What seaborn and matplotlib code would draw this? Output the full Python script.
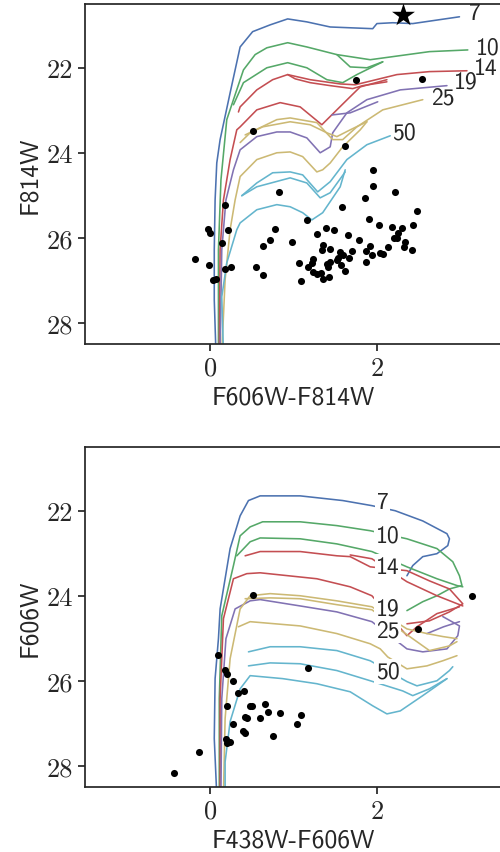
import numpy as np
import matplotlib
matplotlib.use("Agg")
import matplotlib.pyplot as plt
import seaborn as sns

# isochrone ages (Myr) and colours
ages = ["7", "10", "14", "19", "25", "50"]
pal = sns.color_palette("deep")
age_colors = [pal[0], pal[2], pal[3], pal[4], pal[8], pal[9]]

# ---- top panel: F606W-F814W vs F814W, each branch = (colour, mag) ----
top_7 = [
    ([0.07, 0.05, 0.05, 0.06, 0.08, 0.12, 0.24, 0.36, 0.51, 0.72, 0.93, 1.16, 1.44, 1.95, 2.00, 2.19, 2.43, 2.99],
     [28.7, 27.46, 26.28, 25.11, 24.24, 23.69, 22.59, 21.51, 21.15, 20.99, 20.85, 20.92, 21.04, 21.08, 20.96, 20.94, 20.96, 20.80]),
]
top_10 = [
    ([0.10, 0.10, 0.13, 0.20, 0.28, 0.40, 0.54, 0.68, 0.93, 1.16, 1.52, 1.92, 2.63, 3.09],
     [28.7, 26.28, 24.64, 23.22, 22.75, 22.05, 21.69, 21.53, 21.41, 21.51, 21.69, 21.81, 21.62, 21.58]),
    ([1.52, 1.68, 1.88, 2.07], [21.69, 21.98, 22.00, 21.86]),
    ([0.28, 0.40, 0.68, 0.93, 1.16, 1.40, 1.59, 1.76, 2.07],
     [22.87, 22.35, 22.00, 21.88, 22.00, 22.28, 22.35, 22.16, 21.86]),
]
top_14 = [
    ([0.11, 0.12, 0.16, 0.24, 0.32, 0.36, 0.56, 0.84, 1.08, 1.34, 1.52, 1.68, 1.80, 2.12],
     [28.7, 26.28, 25.11, 24.16, 23.46, 23.39, 22.99, 22.82, 22.92, 23.34, 22.99, 22.68, 22.45, 22.28]),
    ([0.34, 0.36, 0.56, 0.75, 0.93, 1.20, 1.56, 1.74, 2.24, 2.63, 3.08],
     [23.04, 22.92, 22.52, 22.28, 22.16, 22.28, 22.38, 22.40, 22.16, 22.09, 22.07]),
    ([0.93, 1.02, 1.20, 1.44, 1.71, 1.83, 2.12],
     [22.16, 22.26, 22.35, 22.42, 22.49, 22.42, 22.33]),
]
top_19 = [
    ([0.12, 0.14, 0.19, 0.28, 0.36, 0.56, 0.80, 0.96, 1.16, 1.32, 1.44, 1.47, 1.64, 1.88, 2.28, 2.84],
     [28.7, 26.28, 25.11, 24.40, 23.93, 23.62, 23.51, 23.51, 23.65, 24.00, 23.86, 23.53, 23.06, 22.75, 22.52, 22.42]),
    ([1.46, 1.68, 2.01], [23.11, 23.06, 22.80]),
]
top_25 = [
    ([0.14, 0.18, 0.24, 0.30, 0.36, 0.56, 0.80, 0.96, 1.11, 1.28, 1.35, 1.44, 1.59, 1.80, 1.88],
     [28.7, 26.99, 25.81, 25.11, 24.56, 24.16, 24.00, 23.98, 24.09, 24.45, 24.40, 24.24, 23.86, 23.46, 23.27]),
    ([0.36, 0.48, 0.63, 0.96, 1.20, 1.40, 1.52, 1.68, 1.88],
     [23.76, 23.53, 23.39, 23.27, 23.34, 23.53, 23.62, 23.46, 23.27]),
    ([0.42, 0.80, 0.96, 1.28, 1.47, 1.59, 1.76, 2.07, 2.55],
     [23.58, 23.22, 23.18, 23.29, 23.69, 23.69, 23.39, 22.99, 22.75]),
]
top_50 = [
    ([0.16, 0.14, 0.20, 0.32, 0.36, 0.56, 0.80, 0.96, 1.11, 1.22, 1.35, 1.56, 1.62],
     [28.7, 27.39, 26.59, 25.81, 25.65, 25.34, 25.22, 25.27, 25.41, 25.58, 25.41, 24.80, 24.40]),
    ([0.38, 0.56, 0.75, 0.96, 1.11, 1.29, 1.44, 1.64, 1.88, 2.16],
     [25.01, 24.71, 24.47, 24.45, 24.52, 24.92, 24.68, 24.16, 23.81, 23.60]),
    ([0.38, 0.56, 0.96, 1.16, 1.32, 1.44, 1.62],
     [25.01, 24.80, 24.59, 24.71, 25.06, 24.94, 24.45]),
]

# ---- bottom panel: F438W-F606W vs F606W ----
bot_7 = [
    ([0.08, 0.05, 0.06, 0.10, 0.12, 0.24, 0.36, 0.46, 0.60, 1.08, 1.59, 1.94, 2.22, 2.55, 2.84, 2.87, 2.85, 2.72, 2.55, 2.43, 2.36],
     [28.7, 27.36, 25.95, 25.01, 24.31, 22.89, 22.12, 21.76, 21.65, 21.65, 21.76, 21.88, 22.00, 22.24, 22.54, 22.66, 22.82, 23.01, 23.08, 23.29, 23.53]),
]
bot_10 = [
    ([0.11, 0.11, 0.14, 0.28, 0.36, 0.48, 0.63, 1.08, 1.52, 1.92, 2.36, 2.72, 2.91, 2.99, 3.02, 2.87, 2.72, 2.55, 2.36],
     [28.7, 26.42, 24.47, 23.29, 22.59, 22.38, 22.26, 22.26, 22.35, 22.47, 22.66, 22.89, 23.20, 23.53, 23.76, 23.84, 24.00, 24.14, 24.35]),
    ([0.32, 0.48, 0.60, 1.08, 1.52, 1.94, 2.36, 2.72, 2.96, 3.03],
     [23.06, 22.73, 22.64, 22.66, 22.78, 22.96, 23.32, 23.60, 23.76, 23.79]),
]
bot_14 = [
    ([0.12, 0.12, 0.16, 0.28, 0.44, 0.60, 1.28, 1.68, 1.94, 2.36, 2.48, 2.72, 2.99],
     [28.7, 26.42, 24.54, 23.60, 23.48, 23.46, 23.60, 23.79, 24.00, 24.94, 24.73, 24.42, 24.26]),
    ([0.42, 0.60, 1.08, 1.52, 1.68, 1.80, 1.92, 2.36, 2.63, 2.87, 3.03, 2.87, 2.63, 2.36],
     [23.06, 22.96, 22.96, 23.06, 23.08, 23.20, 23.32, 23.41, 23.65, 23.84, 24.19, 24.38, 24.59, 24.66]),
    ([1.68, 1.94, 2.36, 2.72, 3.03], [23.04, 23.13, 23.67, 24.00, 24.24]),
]
bot_19 = [
    ([0.13, 0.14, 0.19, 0.30, 0.48, 0.60, 1.08, 1.52, 1.94, 2.36, 2.55, 2.84, 2.97, 2.99, 2.79],
     [28.7, 26.42, 25.01, 24.31, 24.12, 24.09, 24.24, 24.38, 24.61, 25.25, 25.32, 25.25, 24.94, 24.71, 24.49]),
    ([2.60, 2.80, 2.99], [24.89, 24.73, 24.61]),
]
bot_25 = [
    ([0.16, 0.18, 0.24, 0.36, 0.48, 0.72, 1.08, 1.52, 1.94, 2.36, 2.60, 2.79, 2.96],
     [28.7, 26.89, 25.48, 24.31, 24.00, 23.95, 24.00, 24.12, 24.26, 24.78, 24.89, 24.96, 25.01]),
    ([0.42, 0.72, 1.08, 1.52, 1.94, 2.63, 2.87, 2.96],
     [24.07, 24.05, 24.07, 24.21, 24.33, 25.29, 25.18, 25.08]),
    ([0.34, 0.48, 1.08, 1.52, 1.92, 2.04, 2.13, 2.36, 2.60, 2.79, 2.96],
     [24.73, 24.61, 24.71, 24.89, 25.13, 25.25, 25.44, 25.72, 25.65, 25.53, 25.41]),
]
bot_50 = [
    ([0.18, 0.18, 0.24, 0.36, 0.48, 0.87, 1.28, 1.68, 1.95, 2.12, 2.28, 2.55, 2.84],
     [28.7, 27.91, 26.96, 26.19, 25.88, 25.95, 26.07, 26.26, 26.59, 26.78, 26.71, 26.35, 25.95]),
    ([0.46, 0.72, 1.08, 1.52, 1.92, 2.36, 2.48, 2.72, 2.87, 2.91],
     [25.32, 25.20, 25.20, 25.29, 25.53, 26.02, 26.12, 26.00, 25.76, 25.67]),
    ([0.46, 0.72, 1.08, 1.52, 1.92, 2.31, 2.43, 2.63, 2.84],
     [25.65, 25.58, 25.60, 25.76, 26.00, 26.24, 26.35, 26.19, 25.95]),
]

top_iso = [top_7, top_10, top_14, top_19, top_25, top_50]
bot_iso = [bot_7, bot_10, bot_14, bot_19, bot_25, bot_50]

# label anchor points (colour, mag)
top_lab_x = [3.17, 3.33, 3.31, 3.07, 2.79, 2.32]
top_lab_y = [20.71, 21.53, 22.00, 22.33, 22.71, 23.53]
bot_lab_x = [2.07, 2.13, 2.13, 2.13, 2.13, 2.13]
bot_lab_y = [21.79, 22.59, 23.32, 24.31, 24.82, 25.79]

# observed stars
top_c = [1.75, 2.54, 0.51, 1.62, 1.95, 0.83, 0.18, 1.95, 2.22, 1.86, 1.58, 2.48, 1.16, 1.90, 2.02, 2.18,
         2.30, 2.43, -0.02, 0.00, 0.22, 0.78, 1.39, 1.49, 1.28, 1.65, 0.14, 0.72, 0.63, 0.98, 1.78, 1.35,
         1.34, 1.44, 1.92, 1.87, 1.70, 1.56, 1.59, 1.66, 1.53, 1.52, 1.44, 1.40, 1.23, 1.22, 1.07, 1.17,
         1.87, 1.94, 2.04, 2.07, 2.13, 2.20, 2.25, 2.24, 2.34, 2.32, 2.42, 0.55, 0.63, 1.23, 1.33, 1.57,
         1.62, 1.43, 1.35, 1.09, 1.28, 1.41, -0.18, -0.01, 0.18, 0.25, 0.04, 0.07]
top_m = [22.28, 22.26, 23.48, 23.84, 24.40, 24.92, 25.22, 24.78, 24.92, 25.06, 25.27, 25.36, 25.58, 25.55,
         25.69, 25.74, 25.76, 25.69, 25.79, 25.88, 25.81, 25.79, 25.76, 25.81, 25.91, 25.93, 26.12, 26.05,
         26.19, 26.09, 26.05, 26.16, 26.28, 26.26, 26.19, 26.31, 26.31, 26.33, 26.40, 26.47, 26.47, 26.52,
         26.56, 26.61, 26.49, 26.59, 26.59, 26.68, 26.56, 26.40, 26.35, 26.38, 26.21, 26.00, 25.88, 26.00,
         26.09, 26.21, 26.28, 26.68, 26.87, 26.80, 26.82, 26.64, 26.78, 26.92, 26.96, 27.01, 26.85, 26.68,
         26.49, 26.64, 26.73, 26.68, 26.99, 26.96]
bot_c = [0.51, 3.14, 2.49, 0.10, 0.18, 0.20, 0.28, 0.34, 0.41, 0.20, 0.48, 0.42, 0.44, 0.28, 0.40, 0.42,
         0.19, 0.24, 0.20, -0.13, -0.43, 1.17, 0.50, 0.66, 0.69, 0.84, 0.60, 1.09, 1.04, 0.75]
bot_m = [23.98, 24.00, 24.78, 25.39, 25.74, 25.84, 26.00, 26.28, 26.24, 26.59, 26.59, 26.85, 26.87, 27.01,
         27.18, 27.22, 27.36, 27.44, 27.46, 27.67, 28.16, 25.69, 26.59, 26.54, 26.73, 26.75, 26.87, 26.80,
         27.01, 27.29]

star_c = [2.31]
star_m = [20.75]

sns.set_theme(style="ticks")
plt.rcParams["font.family"] = ["cmss10", "DejaVu Sans"]
plt.rcParams["axes.unicode_minus"] = False

fig = plt.figure(figsize=(5, 8.53), dpi=100)
ax1 = fig.add_axes([0.17, 0.5955, 0.834, 0.3986])
ax2 = fig.add_axes([0.17, 0.0762, 0.834, 0.3986])


def draw_iso(ax, isos):
    for branches, col in zip(isos, age_colors):
        for xs, ys in branches:
            sns.lineplot(x=xs, y=ys, sort=False, estimator=None, color=col,
                         linewidth=1.15, ax=ax, legend=False)


draw_iso(ax1, top_iso)
draw_iso(ax2, bot_iso)

sns.scatterplot(x=top_c, y=top_m, color="black", s=26, linewidth=0, ax=ax1, zorder=5)
sns.scatterplot(x=star_c, y=star_m, color="black", marker="*", s=300, linewidth=0, ax=ax1, zorder=5)
sns.scatterplot(x=bot_c, y=bot_m, color="black", s=26, linewidth=0, ax=ax2, zorder=5)

for t, x, y in zip(ages, top_lab_x, top_lab_y):
    ax1.text(x, y, t, fontsize=17, ha="center", va="center", color="#262626")
for t, x, y in zip(ages, bot_lab_x, bot_lab_y):
    ax2.text(x, y, t, fontsize=17, ha="center", va="center", color="#262626", zorder=4,
             bbox=dict(fc="white", ec="none", pad=1.0))

for ax, xl, yl in [(ax1, "F606W-F814W", "F814W"), (ax2, "F438W-F606W", "F606W")]:
    ax.set_xlim(-1.5, 3.5)
    ax.set_ylim(28.5, 20.5)
    ax.set_xticks([0, 2])
    ax.set_yticks([22, 24, 26, 28])
    ax.set_xticklabels(["0", "2"], family="cmr10", fontsize=19)
    ax.set_yticklabels(["22", "24", "26", "28"], family="cmr10", fontsize=19)
    ax.set_xlabel(xl, fontsize=18.5)
    ax.set_ylabel(yl, fontsize=18.5)
    ax.tick_params(length=5)

fig.savefig("out.png", dpi=100)
